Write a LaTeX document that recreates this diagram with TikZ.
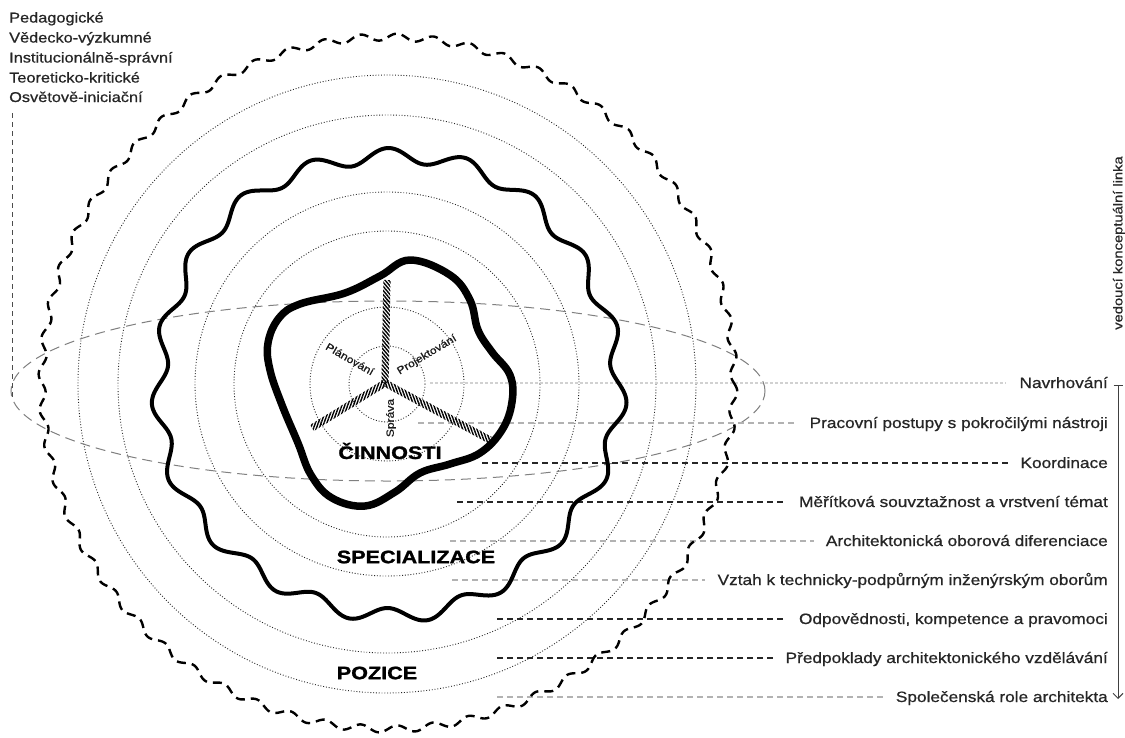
\documentclass[tikz,border=0pt]{standalone}
\usepackage{fontspec}
\setmainfont{Liberation Sans}[FakeStretch=1.15, FakeBold=0.7]
\newfontfamily\bigf{Liberation Sans}[FakeStretch=1.2, BoldFeatures={FakeBold=1.4}]
\usetikzlibrary{calc,patterns.meta,arrows.meta,shapes.geometric}
\begin{document}
\begin{tikzpicture}[x=1pt,y=-1pt,
  dotc/.style={black!85, line width=0.9pt, dash pattern=on 0.9pt off 1.9pt},
  ellline/.style={black!50, line width=1pt, dash pattern=on 10pt off 6pt},
  darkline/.style={black!85, line width=1.3pt, dash pattern=on 6pt off 4pt},
  lightline/.style={black!30, line width=1.1pt, dash pattern=on 6pt off 4pt},
  faintline/.style={black!18, line width=1.1pt, dash pattern=on 3pt off 2pt},
  leftline/.style={black!70, line width=1pt, dash pattern=on 5pt off 4pt},
  thickwave/.style={black, line width=4pt, line join=round},
  outerwave/.style={black, line width=2.4pt, dash pattern=on 9pt off 6pt},
  blobline/.style={black, line width=7.5pt, line join=round},
  lbl/.style={anchor=base east, inner sep=0pt, text=black!85, font=\fontsize{15}{18}\selectfont},
  tll/.style={anchor=base west, inner sep=0pt, text=black!85, font=\fontsize{14.2}{18}\selectfont},
  spl/.style={inner sep=0pt, text=black!90, font=\fontsize{10.5}{12}\selectfont},
  bigl/.style={inner sep=0pt, text=black, font=\bigf\bfseries\fontsize{18}{20}\selectfont},
  spoke/.style={draw=none}
]
\useasboundingbox[fill=white] (0,0) rectangle (1125,737);

% dotted concentric circles
\foreach \r in {38,77,153,192,269,309}
  \draw[dotc] (387,384) circle[radius=\r];

% thin dashed ellipse
\node[draw, ellline, ellipse, minimum width=754pt, minimum height=180pt, inner sep=0pt] (ell) at (388,391) {};

% left vertical dashed line
\coordinate (lvtop) at (12,113);
\coordinate (lvbot) at (12,397);
\draw[leftline] (lvtop) -- (lvbot);

% top-left list
\node[tll] (t1) at (9,22.5) {Pedagogické};
\node[tll] (t2) at (9,42.5) {Vědecko-výzkumné};
\node[tll] (t3) at (9,62.5) {Institucionálně-správní};
\node[tll] (t4) at (9,82.5) {Teoreticko-kritické};
\node[tll] (t5) at (9,102) {Osvětově-iniciační};

% right labels
\node[lbl] (l1) at (1108,388) {Navrhování};
\node[lbl] (l2) at (1108,428) {Pracovní postupy s pokročilými nástroji};
\node[lbl] (l3) at (1108,468) {Koordinace};
\node[lbl] (l4) at (1108,507) {Měřítková souvztažnost a vrstvení témat};
\node[lbl] (l5) at (1108,546) {Architektonická oborová diferenciace};
\node[lbl] (l6) at (1108,585) {Vztah k technicky-podpůrným inženýrským oborům};
\node[lbl] (l7) at (1108,624) {Odpovědnosti, kompetence a pravomoci};
\node[lbl] (l8) at (1108,663) {Předpoklady architektonického vzdělávání};
\node[lbl] (l9) at (1108,702) {Společenská role architekta};

\coordinate (s1) at (430,383);
\coordinate (s2) at (418,423);
\coordinate (s3) at (482,463);
\coordinate (s4) at (457,502);
\coordinate (s5) at (450,541);
\coordinate (s6) at (452,580);
\coordinate (s7) at (497,619);
\coordinate (s8) at (497,658);
\coordinate (s9) at (497,697);

\draw[faintline, shorten >=14pt] (s1) -- (l1.west |- s1);
\draw[lightline, shorten >=12pt] (s2) -- (l2.west |- s2);
\draw[darkline, shorten >=12pt] (s3) -- (l3.west |- s3);
\draw[darkline, shorten >=12pt] (s4) -- (l4.west |- s4);
\draw[lightline, shorten >=12pt] (s5) -- (l5.west |- s5);
\draw[lightline, shorten >=12pt] (s6) -- (l6.west |- s6);
\draw[darkline, shorten >=12pt] (s7) -- (l7.west |- s7);
\draw[darkline, shorten >=12pt] (s8) -- (l8.west |- s8);
\draw[lightline, shorten >=12pt] (s9) -- (l9.west |- s9);

% leading conceptual line
\coordinate (vtop) at (1118,385);
\coordinate (vbot) at (1118,699);
\draw[black!75, line width=1pt, {Bar[width=9pt]}-{Straight Barb[length=5pt,width=10pt]}] (vtop) -- (vbot);
\node[inner sep=0pt, rotate=90, text=black!85, font=\fontsize{12.8}{15}\selectfont] (vl) at (1119,243) {vedoucí konceptuální linka};

% thick wavy ring (specializace)
\draw[thickwave] plot[domain=0:360, samples=721]
  ({388+(230+7.5*sin(19*\x)+2*sin(5*\x+40))*cos(\x)}, {384+(230+7.5*sin(19*\x)+2*sin(5*\x+40))*sin(\x)}) -- cycle;

% outer dashed wavy ring (pozice)
\draw[outerwave] plot[domain=0:60, samples=1201]
  ({388+(346+3.5*sin(360*(\x-floor(\x))))*cos(6*\x)}, {383+(346+3.5*sin(360*(\x-floor(\x))))*sin(6*\x)}) -- cycle;

% inner blob (cinnosti)
\draw[blobline] plot[smooth cycle, tension=0.65] coordinates {
  (410,260) (450,275) (470,300) (478,330) (492,352) (510,375) (512,402)
  (502,430) (480,453) (450,464) (420,473) (395,492) (365,506) (332,498)
  (311,475) (298,443) (282,405) (270,370) (268,343) (279,318) (300,304)
  (345,293) (380,276)};

% hatched spokes
\coordinate (hub) at (385,383);
\coordinate (sp1) at (387,280);
\coordinate (sp2) at (312,428);
\coordinate (sp3) at (490,440);
\fill[spoke, pattern={Lines[angle=-50,distance=2.7pt,line width=1.4pt]}]
  ($(hub)!3.6pt!90:(sp1)$) -- ($(sp1)!3.6pt!-90:(hub)$) -- ($(sp1)!3.6pt!90:(hub)$) -- ($(hub)!3.6pt!-90:(sp1)$) -- cycle;
\fill[spoke, pattern={Lines[angle=70,distance=2.7pt,line width=1.4pt]}]
  ($(hub)!3.6pt!90:(sp2)$) -- ($(sp2)!3.6pt!-90:(hub)$) -- ($(sp2)!3.6pt!90:(hub)$) -- ($(hub)!3.6pt!-90:(sp2)$) -- cycle;
\fill[spoke, pattern={Lines[angle=-70,distance=2.7pt,line width=1.4pt]}]
  ($(hub)!3.6pt!90:(sp3)$) -- ($(sp3)!3.6pt!-90:(hub)$) -- ($(sp3)!3.6pt!90:(hub)$) -- ($(hub)!3.6pt!-90:(sp3)$) -- cycle;

\node[spl, rotate=-30] (pl) at (350,359) {Plánování};
\node[spl, rotate=31] (pr) at (427,355) {Projektování};
\node[spl, rotate=90] (sa) at (391,418) {Správa};

% big labels
\node[bigl] (cin) at (390,451) {ČINNOSTI};
\node[bigl] (spe) at (416,557) {SPECIALIZACE};
\node[bigl] (poz) at (377,673) {POZICE};
\end{tikzpicture}
\end{document}
